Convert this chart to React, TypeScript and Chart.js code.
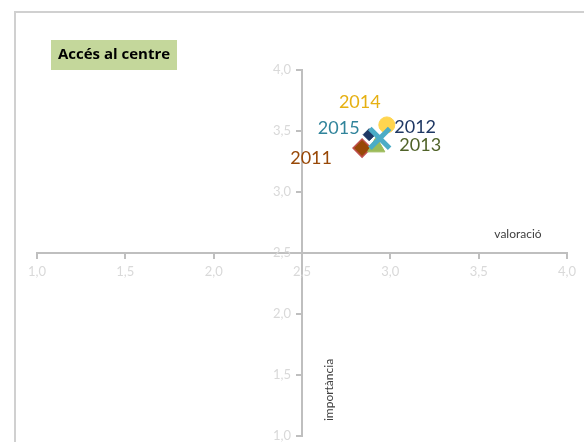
import React, { useEffect, useRef } from 'react';
import { Chart, registerables } from 'chart.js';

Chart.register(...registerables);

// ---- data ----
const years = ['2011', '2012', '2013', '2014', '2015'];
const valoracio = [2.84, 2.88, 2.92, 2.98, 2.94];
const importancia = [3.36, 3.47, 3.37, 3.55, 3.44];
const axisMin = 1.0;
const axisMax = 4.0;
const axisCross = 2.5;
const tickStep = 0.5;
const titleText = 'Accés al centre';
const xTitle = 'valoració';
const yTitle = 'importància';

// ---- styles ----
const markerStyles = [
  { pointStyle: 'rectRot', radius: 9, bg: '#984807', border: '#c0504d', bw: 1.5 },
  { pointStyle: 'rectRot', radius: 6, bg: '#1f3864', border: '#1f3864', bw: 1 },
  { pointStyle: 'triangle', radius: 10, bg: '#9bbb59', border: '#9bbb59', bw: 1 },
  { pointStyle: 'circle', radius: 8, bg: '#ffd54f', border: '#ffd54f', bw: 1 },
  { pointStyle: 'crossRot', radius: 14, bg: '#4bacc6', border: '#4bacc6', bw: 5 },
];
const labelColors = ['#984807', '#1f3864', '#4f6228', '#e6b012', '#31849b'];
const labelOffsets = [
  [-51, 10],
  [46, -7],
  [44, -2],
  [-27, -23],
  [-41, -10],
];
const FONT = 'Lato, "Open Sans", sans-serif';

const fmt = (v: number | string) => Number(v).toFixed(1).replace('.', ',');

const decorPlugin = {
  id: 'decor',
  beforeDraw(chart: any) {
    const ctx = chart.ctx;
    ctx.save();
    // outer frame
    ctx.strokeStyle = '#d0d0d0';
    ctx.lineWidth = 2;
    ctx.beginPath();
    ctx.moveTo(15, 460);
    ctx.lineTo(15, 12);
    ctx.lineTo(600, 12);
    ctx.stroke();
    // title box
    ctx.fillStyle = '#c4d79b';
    ctx.fillRect(51, 40, 126, 30);
    ctx.fillStyle = '#000000';
    ctx.font = 'bold 15px "Open Sans", Lato, sans-serif';
    ctx.textAlign = 'center';
    ctx.textBaseline = 'middle';
    ctx.fillText(titleText, 114, 55);
    // axis titles
    ctx.fillStyle = '#404040';
    ctx.font = '12px ' + FONT;
    ctx.fillText(xTitle, 518, 234);
    ctx.translate(329, 390);
    ctx.rotate(-Math.PI / 2);
    ctx.fillText(yTitle, 0, 0);
    ctx.restore();
  },
  afterDraw(chart: any) {
    const ctx = chart.ctx;
    const xs = chart.scales.x;
    const ys = chart.scales.y;
    ctx.save();
    ctx.fillStyle = '#d9d9d9';
    ctx.font = '13px ' + FONT;
    ctx.textBaseline = 'middle';
    // x tick labels (below the horizontal axis)
    const xAxisPix = ys.getPixelForValue(axisCross);
    ctx.textAlign = 'center';
    xs.ticks.forEach((t: any) => {
      ctx.fillText(fmt(t.value), xs.getPixelForValue(t.value), xAxisPix + 19);
    });
    // y tick labels (left of the vertical axis)
    const yAxisPix = xs.getPixelForValue(axisCross);
    ctx.textAlign = 'right';
    ys.ticks.forEach((t: any) => {
      ctx.fillText(fmt(t.value), yAxisPix - 11, ys.getPixelForValue(t.value));
    });
    ctx.restore();
  },
  afterDatasetsDraw(chart: any) {
    const ctx = chart.ctx;
    const xs = chart.scales.x;
    const ys = chart.scales.y;
    ctx.save();
    ctx.font = '18px ' + FONT;
    ctx.textAlign = 'center';
    ctx.textBaseline = 'middle';
    years.forEach((yr, i) => {
      const px = xs.getPixelForValue(valoracio[i]);
      const py = ys.getPixelForValue(importancia[i]);
      ctx.fillStyle = labelColors[i];
      ctx.fillText(yr, px + labelOffsets[i][0], py + labelOffsets[i][1]);
    });
    ctx.restore();
  },
};

export default function App() {
  const ref = useRef<HTMLCanvasElement | null>(null);
  useEffect(() => {
    if (!ref.current) return;
    const datasets = years.map((yr, i) => ({
      label: yr,
      data: [{ x: valoracio[i], y: importancia[i] }],
      pointStyle: markerStyles[i].pointStyle as any,
      pointRadius: markerStyles[i].radius,
      pointBackgroundColor: markerStyles[i].bg,
      pointBorderColor: markerStyles[i].border,
      pointBorderWidth: markerStyles[i].bw,
      order: years.length - 1 - i,
    }));
    const axisCommon = (pos: any, horizontal: boolean) => ({
      type: 'linear' as const,
      min: axisMin,
      max: axisMax,
      position: pos,
      ticks: { stepSize: tickStep, display: false, autoSkip: false },
      grid: { drawOnChartArea: false, drawTicks: true, tickLength: 5, color: '#bfbfbf', lineWidth: 2 },
      border: { display: true, color: '#bfbfbf', width: 2 },
      afterFit: (s: any) => {
        if (horizontal) s.height = 0;
        else s.width = 0;
        s.paddingLeft = 0;
        s.paddingRight = 0;
        s.paddingTop = 0;
        s.paddingBottom = 0;
      },
    });
    const chart = new Chart(ref.current, {
      type: 'scatter',
      data: { datasets },
      options: {
        animation: false,
        responsive: false,
        maintainAspectRatio: false,
        layout: { autoPadding: false, padding: { left: 37, right: 17, top: 70, bottom: 6 } },
        plugins: {
          legend: { display: false },
          tooltip: { enabled: false },
          title: { display: false },
        },
        scales: {
          x: axisCommon({ y: axisCross }, true) as any,
          y: axisCommon({ x: axisCross }, false) as any,
        },
      },
      plugins: [decorPlugin],
    });
    return () => chart.destroy();
  }, []);
  return (
    <div style={{ position: 'fixed', left: 0, top: 0, width: 584, height: 442, background: '#ffffff' }}>
      <canvas ref={ref} width={584} height={442} style={{ display: 'block', width: 584, height: 442 }} />
    </div>
  );
}
